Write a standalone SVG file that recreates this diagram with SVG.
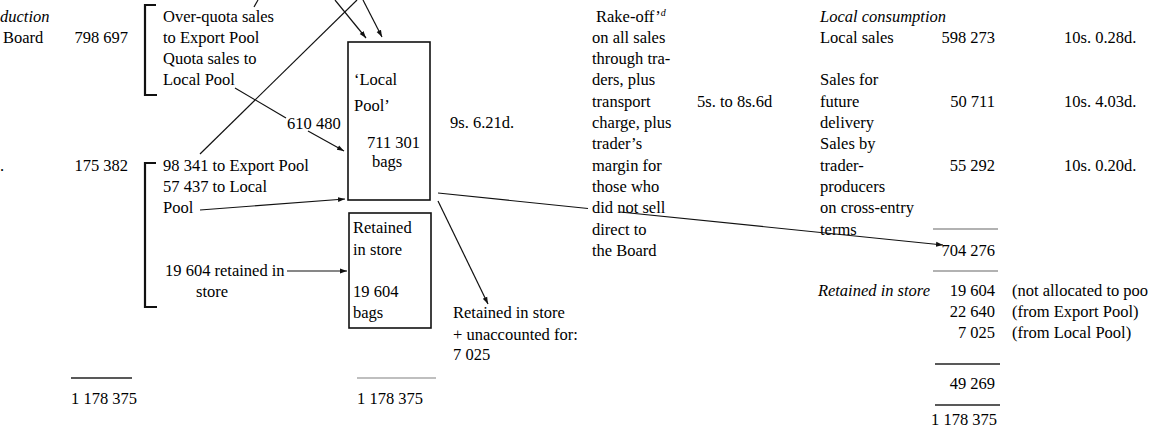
<svg xmlns="http://www.w3.org/2000/svg" width="1152" height="429" viewBox="0 0 1152 429">
  <defs>
    <style>
      text { font-family: "Liberation Serif", "Times New Roman", serif; font-size: 16.5px; fill: #000; }
      .it { font-style: italic; }
      .num { text-anchor: end; }
      .box { fill: #fff; stroke: #111; stroke-width: 1.6; }
      .ln { stroke: #111; stroke-width: 1.2; fill: none; }
      .br { stroke: #111; stroke-width: 2.2; fill: none; }
      .rule { stroke: #222; stroke-width: 1.3; }
      .rule-l { stroke: #666; stroke-width: 1.2; }
      .rule-g { stroke: #aaa; stroke-width: 1.6; }
    </style>
    <marker id="ah" viewBox="0 0 10 10" refX="10" refY="5" markerWidth="7" markerHeight="7" orient="auto" markerUnits="userSpaceOnUse">
      <path d="M0,1.5 L10,5 L0,8.5 z" fill="#111"/>
    </marker>
  </defs>
  <rect width="1152" height="429" fill="#fff"/>

  <!-- left source column -->
  <g id="production">
    <text class="it" x="0" y="21.5">duction</text>
    <text x="3" y="42.8">Board</text>
    <text class="num" x="128" y="42.8">798 697</text>
    <text x="0" y="170.6">.</text>
    <text class="num" x="128" y="170.6">175 382</text>
    <line class="rule" x1="71" y1="378" x2="132" y2="378"/>
    <text x="71" y="404">1 178 375</text>
  </g>

  <g id="board-sales">
    <path class="br" d="M156,5 H145 V95 H157"/>
    <text x="163" y="21.5">Over-quota sales</text>
    <text x="163" y="42.8">to Export Pool</text>
    <text x="163" y="64.1">Quota sales to</text>
    <text x="163" y="85.4">Local Pool</text>
  </g>

  <g id="trader-sales">
    <path class="br" d="M156,163 H145 V307 H157"/>
    <text x="163" y="170.6">98 341 to Export Pool</text>
    <text x="163" y="191.9">57 437 to Local</text>
    <text x="163" y="213.2">Pool</text>
    <text x="165" y="276">19 604 retained in</text>
    <text x="196" y="297">store</text>
  </g>

  <g id="local-pool">
    <rect class="box" x="348" y="42" width="82" height="158"/>
    <text x="354" y="85.4">‘Local</text>
    <text x="354" y="111">Pool’</text>
    <text x="367" y="148">711 301</text>
    <text x="372" y="166.5">bags</text>
  </g>

  <g id="retained-store">
    <rect class="box" x="349" y="213" width="82" height="115"/>
    <text x="353" y="233">Retained</text>
    <text x="353" y="255">in store</text>
    <text x="353" y="297">19 604</text>
    <text x="353" y="318">bags</text>
    <line class="rule-g" x1="357" y1="378" x2="436" y2="378"/>
    <text x="357" y="404">1 178 375</text>
  </g>

  <g id="pool-price">
    <text x="287" y="129">610 480</text>
    <text x="450" y="128">9s. 6.21d.</text>
  </g>

  <g id="unaccounted">
    <text x="453" y="318">Retained in store</text>
    <text x="453" y="340">+ unaccounted for:</text>
    <text x="453" y="360">7 025</text>
  </g>

  <g id="rake-off">
    <text x="596" y="21.5">Rake-off’<tspan class="it" font-size="10" dy="-6">d</tspan></text>
    <text x="592" y="42.8">on all sales</text>
    <text x="592" y="64.1">through tra-</text>
    <text x="592" y="85.4">ders, plus</text>
    <text x="592" y="106.7">transport</text>
    <text x="592" y="128">charge, plus</text>
    <text x="592" y="149.3">trader’s</text>
    <text x="592" y="170.6">margin for</text>
    <text x="592" y="191.9">those who</text>
    <text x="592" y="213.2">did not sell</text>
    <text x="592" y="234.5">direct to</text>
    <text x="592" y="255.8">the Board</text>
    <text x="697" y="106.7">5s. to 8s.6d</text>
  </g>

  <g id="local-consumption">
    <text class="it" x="820" y="21.5">Local consumption</text>
    <text x="820" y="42.8">Local sales</text>
    <text class="num" x="995" y="42.8">598 273</text>
    <text x="1064" y="42.8">10s. 0.28d.</text>
    <text x="820" y="85.4">Sales for</text>
    <text x="820" y="106.7">future</text>
    <text class="num" x="995" y="106.7">50 711</text>
    <text x="1064" y="106.7">10s. 4.03d.</text>
    <text x="820" y="128">delivery</text>
    <text x="820" y="149.3">Sales by</text>
    <text x="820" y="170.6">trader-</text>
    <text class="num" x="995" y="170.6">55 292</text>
    <text x="1064" y="170.6">10s. 0.20d.</text>
    <text x="820" y="191.9">producers</text>
    <text x="820" y="213.2">on cross-entry</text>
    <text x="820" y="234.5">terms</text>
    <line class="rule-l" x1="933" y1="229" x2="998" y2="229"/>
    <text class="num" x="995" y="255.8">704 276</text>
    <line class="rule-l" x1="933" y1="271" x2="998" y2="271"/>
  </g>

  <g id="retained-summary">
    <text class="it num" x="930" y="296">Retained in store</text>
    <text class="num" x="995" y="296">19 604</text>
    <text x="1012" y="296">(not allocated to poo</text>
    <text class="num" x="995" y="317">22 640</text>
    <text x="1012" y="317">(from Export Pool)</text>
    <text class="num" x="995" y="338">7 025</text>
    <text x="1012" y="338">(from Local Pool)</text>
    <line class="rule" x1="935" y1="364" x2="1000" y2="364"/>
    <text class="num" x="995" y="389">49 269</text>
    <line class="rule" x1="935" y1="405" x2="1000" y2="405"/>
    <text class="num" x="997" y="425">1 178 375</text>
  </g>

  <g id="connectors">
    <line class="ln" x1="200" y1="154" x2="357" y2="0"/>
    <line class="ln" x1="235" y1="88" x2="286" y2="118"/>
    <line class="ln" x1="308" y1="131" x2="344" y2="151" marker-end="url(#ah)"/>
    <line class="ln" x1="335" y1="0" x2="366" y2="38" marker-end="url(#ah)"/>
    <line class="ln" x1="363" y1="0" x2="382" y2="37" marker-end="url(#ah)"/>
    <line class="ln" x1="254" y1="7" x2="258" y2="0"/>
    <line class="ln" x1="200" y1="210" x2="345" y2="199" marker-end="url(#ah)"/>
    <line class="ln" x1="287" y1="271" x2="347" y2="271" marker-end="url(#ah)"/>
    <line class="ln" x1="438" y1="201" x2="488" y2="304" marker-end="url(#ah)"/>
    <line class="ln" x1="438" y1="193" x2="588" y2="208.5"/>
    <line class="ln" x1="620" y1="212" x2="943" y2="245" marker-end="url(#ah)"/>
  </g>
</svg>
